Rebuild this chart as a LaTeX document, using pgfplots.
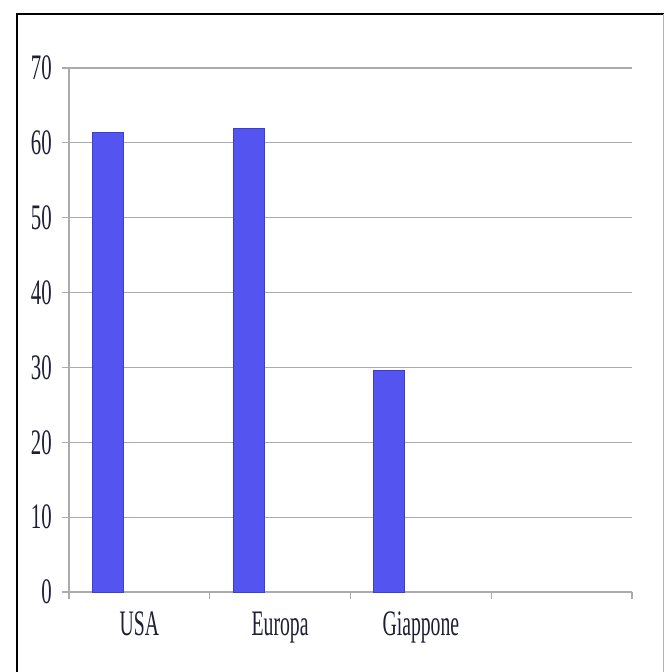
\documentclass[border=0pt]{standalone}
\usepackage{graphicx}
\usepackage{fontspec}
\setmainfont{Liberation Serif}
\usepackage{pgfplots}
\pgfplotsset{compat=1.18}
\definecolor{barblue}{RGB}{84,84,240}
\definecolor{bardark}{RGB}{62,62,205}
\definecolor{gridgray}{RGB}{170,170,175}
\definecolor{labelc}{RGB}{30,30,55}
\begin{document}
\begin{tikzpicture}
\path[use as bounding box] (0,0) rectangle (664bp,-672bp);
\begin{axis}[
  at={(69bp,-592bp)}, anchor=south west,
  scale only axis, width=563bp, height=524bp,
  xmin=-0.5, xmax=3.5, ymin=0, ymax=70,
  axis lines*=left,
  axis line style={gridgray, line width=1.2bp},
  ytick={0,10,...,70},
  ymajorgrids, grid style={gridgray, line width=1.2bp},
  tick align=outside,
  major tick length=7bp,
  tick style={gridgray, line width=1.2bp},
  xtick={-0.5,0.5,1.5,2.5,3.5},
  xticklabels={},
  extra x ticks={0,1,2},
  extra x tick labels={\scalebox{0.55}[1]{USA},\scalebox{0.55}[1]{Europa},\scalebox{0.55}[1]{Giappone}},
  extra x tick style={major tick length=0pt, grid=none,
    xticklabel style={font=\fontsize{36}{36}\selectfont, text=labelc, inner sep=0pt, yshift=-20bp}},
  /pgf/number format/assume math mode=true,
  yticklabel={\scalebox{0.58}[1]{\pgfmathprintnumber{\tick}}},
  yticklabel style={font=\fontsize{36}{36}\selectfont, text=labelc, inner sep=0pt, xshift=-10bp},
  clip=false,
]
\addplot[ybar, bar width=0.22, bar shift=-0.224, fill=barblue, draw=bardark, line width=1bp]
  coordinates {(0,61.4) (1,61.9) (2,29.6)};
\end{axis}
\draw[line width=2.6bp, black] (17bp,-672bp) -- (17bp,-14bp) -- (664bp,-14bp);
\draw[line width=1bp, gray!60] (663bp,-14bp) -- (663bp,-672bp);
\end{tikzpicture}
\end{document}
